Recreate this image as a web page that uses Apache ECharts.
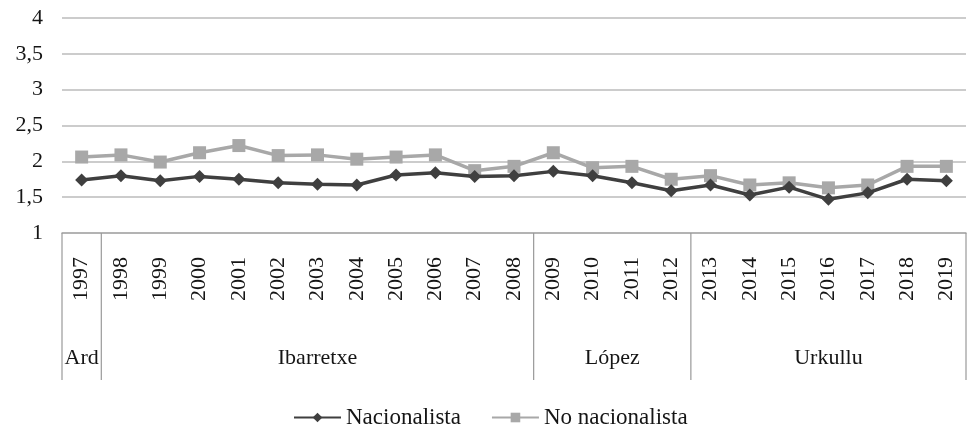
<!DOCTYPE html>
<html>
<head>
<meta charset="utf-8">
<script src="https://cdn.jsdelivr.net/npm/echarts@6/dist/echarts.min.js"></script>
<style>
  html, body { margin: 0; padding: 0; background: #fff; }
  #chart { width: 967px; height: 426px; }
</style>
</head>
<body>
<div id="chart"></div>
<script>
const years = ['1997','1998','1999','2000','2001','2002','2003','2004','2005','2006','2007','2008',
  '2009','2010','2011','2012','2013','2014','2015','2016','2017','2018','2019']
const nacionalista = [1.74,1.80,1.73,1.79,1.75,1.70,1.68,1.67,1.81,1.84,1.79,1.80,
  1.86,1.80,1.70,1.59,1.67,1.53,1.64,1.47,1.56,1.75,1.73]
const noNacionalista = [2.06,2.09,1.99,2.12,2.22,2.08,2.09,2.03,2.06,2.09,1.87,1.93,
  2.12,1.91,1.93,1.75,1.80,1.67,1.70,1.63,1.67,1.93,1.93]
const yTicks = [1, 1.5, 2, 2.5, 3, 3.5, 4]

// lehendakari periods: name, first and last year index
const groupNames = ['Ard', 'Ibarretxe', 'López', 'Urkullu']
const groupStart = [0, 1, 12, 16]
const groupEnd = [0, 11, 15, 22]

const font = '"Liberation Serif", "Times New Roman", serif'
const ink = '#151515'
const chart = echarts.init(document.getElementById('chart'))

chart.setOption({
  animation: false,
  textStyle: { fontFamily: font },
  grid: { left: 62, right: 1, top: 18, bottom: 193 },
  legend: {
    left: 288,
    top: 401,
    itemWidth: 47,
    itemHeight: 12,
    itemGap: 30,
    textStyle: { fontFamily: font, fontSize: 23, color: ink },
    data: ['Nacionalista', 'No nacionalista']
  },
  xAxis: {
    type: 'category',
    data: years,
    boundaryGap: true,
    axisLine: { lineStyle: { color: '#aaa', width: 1.5 } },
    axisTick: { show: false },
    axisLabel: {
      rotate: 90,
      margin: 24,
      fontFamily: font,
      fontSize: 22,
      color: ink,
      interval: 0
    }
  },
  yAxis: {
    type: 'value',
    min: yTicks[0],
    max: yTicks[yTicks.length - 1],
    interval: 0.5,
    axisLine: { show: false },
    axisTick: { show: false },
    splitLine: { lineStyle: { color: '#bbb', width: 1.5 } },
    axisLabel: {
      margin: 19,
      fontFamily: font,
      fontSize: 22,
      color: ink,
      formatter: v => String(v).replace('.', ',')
    }
  },
  series: [
    {
      name: 'Nacionalista',
      type: 'line',
      data: nacionalista,
      symbol: 'diamond',
      symbolSize: 13,
      lineStyle: { color: '#3f3f3f', width: 3.5 },
      itemStyle: { color: '#3f3f3f' },
      z: 3
    },
    {
      name: 'No nacionalista',
      type: 'line',
      data: noNacionalista,
      symbol: 'rect',
      symbolSize: 13,
      lineStyle: { color: '#a8a8a8', width: 3.5 },
      itemStyle: { color: '#a8a8a8' },
      z: 2
    },
    {
      type: 'custom',
      clip: false,
      silent: true,
      data: groupNames.map((n, i) => [groupStart[i], groupEnd[i], n]),
      renderItem: (params, api) => {
        const s = api.value(0)
        const e = api.value(1)
        const band = api.size([1, 0])[0]
        const p0 = api.coord([s, yTicks[0]])
        const p1 = api.coord([e, yTicks[0]])
        const x0 = p0[0] - band / 2
        const x1 = p1[0] + band / 2
        const y0 = p0[1]
        const y1 = y0 + 147
        const children = [
          { type: 'line', shape: { x1: x0, y1: y0, x2: x0, y2: y1 }, style: { stroke: '#999', lineWidth: 1.2 } },
          {
            type: 'text',
            style: {
              x: (x0 + x1) / 2, y: y0 + 125,
              text: api.value(2),
              textAlign: 'center', textVerticalAlign: 'middle',
              font: '22px ' + font, fill: ink
            }
          }
        ]
        if (params.dataIndex === groupNames.length - 1) {
          children.push({ type: 'line', shape: { x1: x1, y1: y0, x2: x1, y2: y1 }, style: { stroke: '#999', lineWidth: 1.2 } })
        }
        return { type: 'group', children }
      }
    }
  ]
})
</script>
</body>
</html>
